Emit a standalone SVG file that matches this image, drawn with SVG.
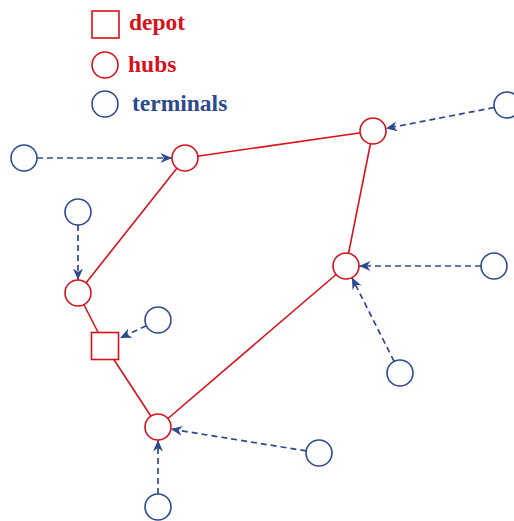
<svg xmlns="http://www.w3.org/2000/svg" width="514" height="521" viewBox="0 0 514 521">
<style>
.hub{fill:#fff;stroke:#d7121b;stroke-width:1.6}
.term{fill:#fff;stroke:#2e4a8e;stroke-width:1.6}
.edge{stroke:#d7121b;stroke-width:1.6;fill:none}
.dash{stroke:#2e4a8e;stroke-width:1.7;fill:none;stroke-dasharray:6 4;marker-end:url(#arr)}
.lbl{font-family:"Liberation Serif","DejaVu Serif",serif;font-weight:bold;font-size:23.5px}
</style>
<defs>
<marker id="arr" markerUnits="userSpaceOnUse" markerWidth="12" markerHeight="12" viewBox="0 0 12 12" refX="11.5" refY="6" orient="auto">
<path d="M0,1 L11.5,6 L0,11 L3.5,6 z" fill="#2e4a8e"/>
</marker>
</defs>
<g id="legend">
<rect class="hub" x="92" y="11" width="27" height="27"/>
<text class="lbl" x="129" y="30" fill="#d7121b">depot</text>
<circle class="hub" cx="105" cy="65" r="13"/>
<text class="lbl" x="128" y="72" fill="#d7121b">hubs</text>
<circle class="term" cx="105" cy="104" r="13"/>
<text class="lbl" x="132" y="111" fill="#2e4a8e">terminals</text>
</g>
<g id="connectors">
<line class="edge" x1="185" y1="158" x2="373" y2="131"/>
<line class="edge" x1="373" y1="131" x2="346" y2="266"/>
<line class="edge" x1="346" y1="266" x2="158" y2="427"/>
<line class="edge" x1="158" y1="427" x2="105" y2="346"/>
<line class="edge" x1="105" y1="346" x2="78" y2="293"/>
<line class="edge" x1="78" y1="293" x2="185" y2="158"/>
<line class="dash" x1="37" y1="158" x2="172" y2="158"/>
<line class="dash" x1="494.2" y1="107.5" x2="385.8" y2="128.5"/>
<line class="dash" x1="78" y1="225" x2="78" y2="280"/>
<line class="dash" x1="146.3" y1="325.7" x2="120" y2="338"/>
<line class="dash" x1="481" y1="266" x2="359" y2="266"/>
<line class="dash" x1="394.1" y1="361.4" x2="351.9" y2="277.6"/>
<line class="dash" x1="306.2" y1="450.9" x2="170.8" y2="429.1"/>
<line class="dash" x1="158" y1="494" x2="158" y2="440"/>
</g>
<g id="hub1"><circle class="hub" cx="185" cy="158" r="13"/></g>
<g id="hub2"><circle class="hub" cx="373" cy="131" r="13"/></g>
<g id="hub3"><circle class="hub" cx="78" cy="293" r="13"/></g>
<g id="hub4"><circle class="hub" cx="346" cy="266" r="13"/></g>
<g id="hub5"><circle class="hub" cx="158" cy="427" r="13"/></g>
<g id="depot"><rect class="hub" x="91.5" y="332.5" width="27" height="27"/></g>
<g id="termA"><circle class="term" cx="24" cy="158" r="13"/></g>
<g id="termB"><circle class="term" cx="507" cy="105" r="13"/></g>
<g id="termC"><circle class="term" cx="78" cy="212" r="13"/></g>
<g id="termD"><circle class="term" cx="158" cy="320" r="13"/></g>
<g id="termE"><circle class="term" cx="494" cy="266" r="13"/></g>
<g id="termF"><circle class="term" cx="400" cy="373" r="13"/></g>
<g id="termG"><circle class="term" cx="319" cy="453" r="13"/></g>
<g id="termH"><circle class="term" cx="158" cy="507" r="13"/></g>
</svg>
